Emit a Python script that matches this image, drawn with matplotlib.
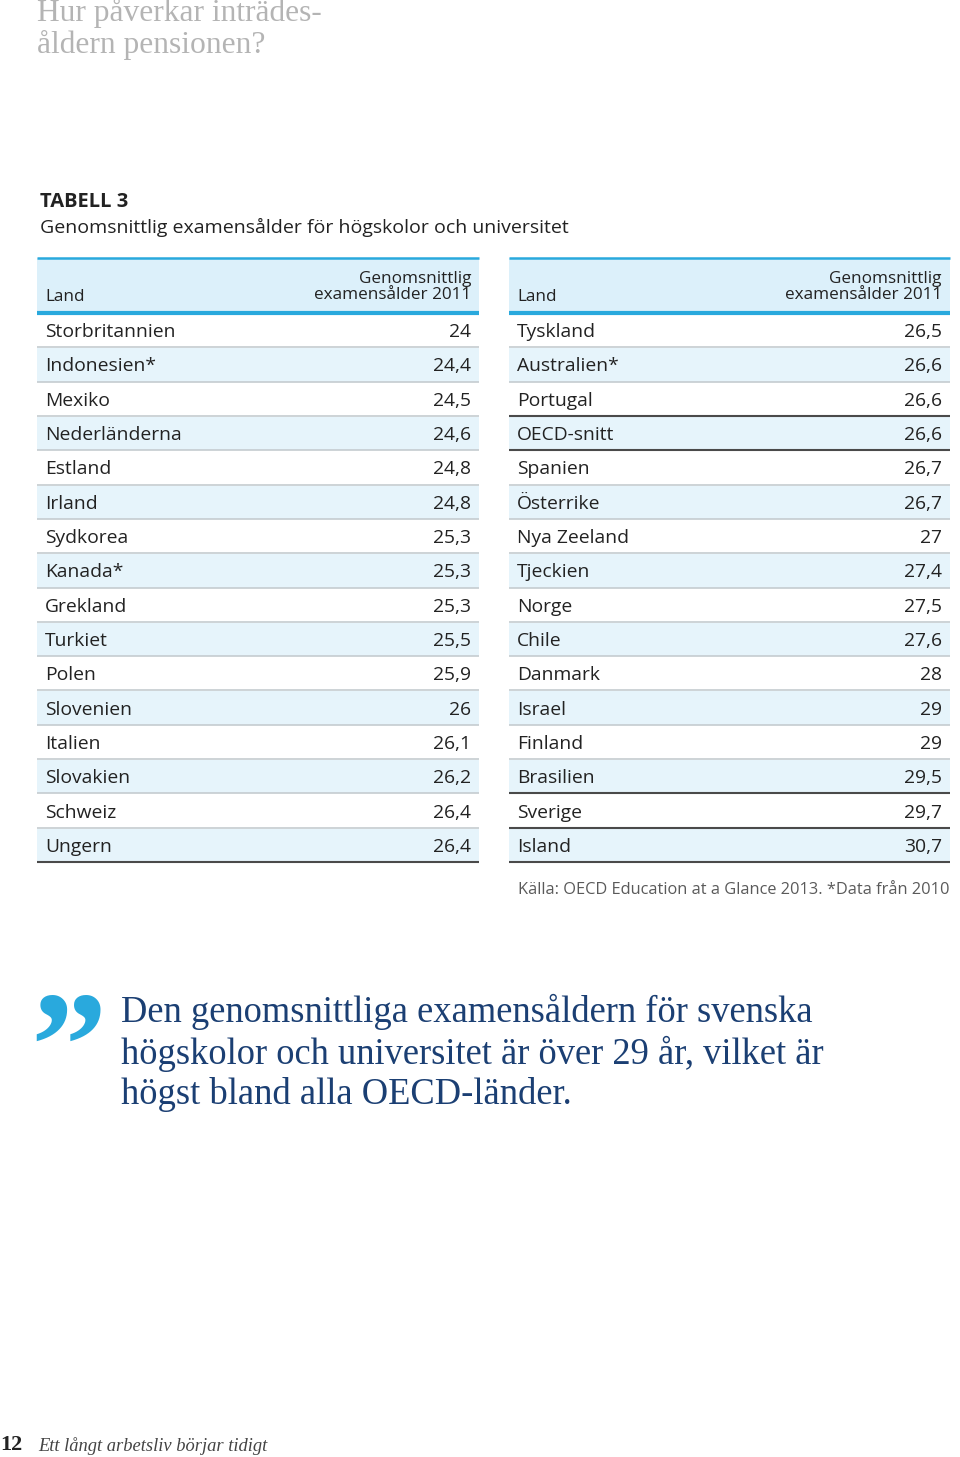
import matplotlib
matplotlib.use("Agg")
import matplotlib.pyplot as plt
from matplotlib.patches import Rectangle

# ---------------- data ----------------
left_countries = ["Storbritannien", "Indonesien*", "Mexiko", "Nederländerna", "Estland",
                  "Irland", "Sydkorea", "Kanada*", "Grekland", "Turkiet", "Polen",
                  "Slovenien", "Italien", "Slovakien", "Schweiz", "Ungern"]
left_values = [24, 24.4, 24.5, 24.6, 24.8, 24.8, 25.3, 25.3, 25.3, 25.5, 25.9,
               26, 26.1, 26.2, 26.4, 26.4]
right_countries = ["Tyskland", "Australien*", "Portugal", "OECD-snitt", "Spanien",
                   "Österrike", "Nya Zeeland", "Tjeckien", "Norge", "Chile", "Danmark",
                   "Israel", "Finland", "Brasilien", "Sverige", "Island"]
right_values = [26.5, 26.6, 26.6, 26.6, 26.7, 26.7, 27, 27.4, 27.5, 27.6, 28,
                29, 29, 29.5, 29.7, 30.7]
highlight = ["OECD-snitt", "Sverige"]
header_left = "Land"
header_right = "Genomsnittlig\nexamensålder 2011"
title_page = "Hur påverkar inträdes-\nåldern pensionen?"
table_label = "TABELL 3"
table_title = "Genomsnittlig examensålder för högskolor och universitet"
source = "Källa: OECD Education at a Glance 2013. *Data från 2010"
quote = "Den genomsnittliga examensåldern för svenska\nhögskolor och universitet är över 29 år, vilket är\nhögst bland alla OECD-länder."
page_no = "12"
footer = "Ett långt arbetsliv börjar tidigt"

# ---------------- style ----------------
W, H = 960, 1457
SANS = ["Open Sans", "DejaVu Sans"]
SERIF = ["Liberation Serif", "DejaVu Serif"]
CYAN = "#29a9dd"
HEADER_BG = "#dcf0fa"
ROW_BG = "#e6f4fb"
SEP = "#c5ccd0"
DARK = "#4a4a4a"
TXT = "#222222"

fig = plt.figure(figsize=(W / 100, H / 100), dpi=100)
ax = fig.add_axes([0, 0, 1, 1])
ax.set_xlim(0, W)
ax.set_ylim(H, 0)
ax.axis("off")


def fmt(v):
    s = ("%.1f" % v).rstrip("0").rstrip(".")
    return s.replace(".", ",")


def draw_table(x0, x1, countries, values):
    top = 258
    head_bot = 313
    row_h = (862 - head_bot) / len(countries)
    ax.add_patch(Rectangle((x0, top), x1 - x0, head_bot - top, color=HEADER_BG, lw=0))
    ax.plot([x0, x1], [top, top], color=CYAN, lw=1.8, solid_capstyle="butt")
    ax.plot([x0, x1], [head_bot, head_bot], color=CYAN, lw=3.0, solid_capstyle="butt")
    ax.text(x0 + 8, 297, header_left, fontsize=12.3, family=SANS, color=TXT,
            va="center", ha="left")
    ax.text(x1 - 8, 287, header_right, fontsize=12.3, family=SANS, color=TXT,
            va="center", ha="right", linespacing=1.08)
    for i, (c, v) in enumerate(zip(countries, values)):
        y0 = head_bot + i * row_h
        y1 = y0 + row_h
        if i % 2 == 1:
            ax.add_patch(Rectangle((x0, y0 + 1), x1 - x0, row_h - 1, color=ROW_BG, lw=0))
        ax.text(x0 + 8, y0 + row_h / 2 + 2, c, fontsize=13.9, family=SANS, color=TXT,
                va="center", ha="left",
                fontweight="medium" if c in highlight else "normal")
        ax.text(x1 - 8, y0 + row_h / 2 + 2, fmt(v), fontsize=13.9, family=SANS,
                color=TXT, va="center", ha="right")
        dark = (c in highlight) or (i + 1 < len(countries) and countries[i + 1] in highlight) \
            or i == len(countries) - 1
        ax.plot([x0, x1], [y1, y1], color=DARK if dark else SEP,
                lw=1.5 if dark else 1.2, solid_capstyle="butt")


draw_table(37, 479, left_countries, left_values)
draw_table(509, 950, right_countries, right_values)

# page title
ax.text(37, 29, title_page, fontsize=22.7, family=SERIF, color="#b4b4b4",
        va="center", ha="left", linespacing=1.12)

# table label & title
ax.text(40, 202, table_label, fontsize=14.5, family=SANS, color=TXT, fontweight="bold",
        va="center", ha="left")
ax.text(40, 227, table_title, fontsize=14, family=SANS, color=TXT,
        va="center", ha="left")

# source
ax.text(949, 890, source, fontsize=11.8, family=SANS, color="#5a5a5a",
        va="center", ha="right")

# quote
ax.text(30, 1060, "\u201d", fontsize=110, family=SERIF, color=CYAN, fontweight="bold",
        va="center", ha="left")
ax.text(121, 1053, quote, fontsize=26.3, family=SERIF, color="#1b3f73",
        va="center", ha="left", linespacing=1.2)

# footer
ax.text(0, 1445, page_no, fontsize=16, family=SERIF, color="#222222", fontweight="bold",
        va="center", ha="left")
ax.text(38, 1446, footer, fontsize=13.3, family=SERIF, color="#444444", style="italic",
        va="center", ha="left")

fig.savefig("out.png", dpi=100, facecolor="white")
